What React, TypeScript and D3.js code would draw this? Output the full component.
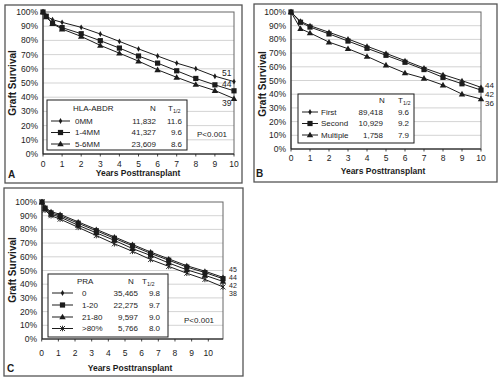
import React from 'react';
import * as d3 from 'd3';

// ---------------- DATA ----------------
const yTicks = [0, 10, 20, 30, 40, 50, 60, 70, 80, 90, 100];
const xTickLabels = [0, 1, 2, 3, 4, 5, 6, 7, 8, 9, 10];

// Panel A – HLA-ABDR mismatches
const yearsA = [0, 0.17, 0.5, 1, 2, 3, 4, 5, 6, 7, 8, 9, 10];
const a0MM = [100, 97, 94.6, 92.7, 89.2, 84.5, 79.3, 74, 69, 64, 60, 54.8, 51];
const a14MM = [100, 97, 92, 89, 84.7, 79.8, 74.6, 69, 64, 58.6, 53.2, 48.7, 44.5];
const a56MM = [100, 96.5, 91.8, 88, 82.8, 76.5, 71, 65.4, 59.3, 54, 49, 44.7, 39];
const aNames = ['0MM', '1-4MM', '5-6MM'];
const aN = ['11,832', '41,327', '23,609'];
const aT = ['11.6', '9.6', '8.6'];
const aEnd = ['51', '44', '39'];

// Panel B – transplant number
const yearsB = [0, 0.5, 1, 2, 3, 4, 5, 6, 7, 8, 9, 10];
const bFirst = [100, 93.2, 90, 85.2, 80.3, 75, 69.8, 64.5, 59.1, 54.3, 49.9, 45];
const bSecond = [100, 92.5, 89, 84, 78.8, 73.5, 68.4, 63.3, 58, 52.3, 47.6, 43];
const bMultiple = [100, 87.8, 84.7, 78, 73.2, 67.6, 61.3, 55.5, 51.6, 46.7, 40.1, 36.5];
const bNames = ['First', 'Second', 'Multiple'];
const bN = ['89,418', '10,929', '1,758'];
const bT = ['9.6', '9.2', '7.9'];
const bEnd = ['44', '42', '36'];

// Panel C – PRA
const yearsC = [0, 0.17, 0.5, 1, 2, 3, 4, 5, 6, 7, 8, 9, 10];
const cPRA0 = [100, 96, 93, 91, 85.5, 80, 74.5, 69, 63.5, 58.5, 53.5, 49.5, 45];
const cPRA1 = [100, 95.5, 92, 90, 84.5, 79, 73.5, 68, 62.5, 57.5, 52.5, 48.5, 44];
const cPRA21 = [100, 95, 91, 89, 83, 77.5, 72, 66, 61, 55.5, 50.5, 46.5, 42];
const cPRA80 = [100, 94, 90, 87.5, 81.5, 75.5, 69.5, 64, 58, 53, 48, 43.5, 38];
const cNames = ['0', '1-20', '21-80', '>80%'];
const cN = ['35,465', '22,275', '9,597', '5,766'];
const cT = ['9.8', '9.7', '9.0', '8.0'];
const cEnd = ['45', '44', '42', '38'];

// ---------------- DRAWING ----------------
const FONT = "'Liberation Sans', Arial, sans-serif";
const INK = '#1c1c1c';

type MType = 'diamond' | 'square' | 'triangle' | 'star';

function Marker({ type, x, y }: { type: MType; x: number; y: number }) {
  if (type === 'square') return <rect x={x - 2.6} y={y - 2.6} width={5.2} height={5.2} fill={INK} />;
  if (type === 'diamond')
    return <path d={d3.symbol(d3.symbolDiamond, 10)()!} transform={`translate(${x},${y})`} fill={INK} />;
  if (type === 'triangle')
    return <path d={d3.symbol(d3.symbolTriangle, 18)()!} transform={`translate(${x},${y + 0.5})`} fill={INK} />;
  return (
    <g stroke={INK} strokeWidth={0.9}>
      <line x1={x - 2.5} y1={y - 2.5} x2={x + 2.5} y2={y + 2.5} />
      <line x1={x - 2.5} y1={y + 2.5} x2={x + 2.5} y2={y - 2.5} />
      <line x1={x} y1={y - 2.8} x2={x} y2={y + 2.8} />
    </g>
  );
}

type PanelCfg = {
  letter: string;
  outer: [number, number, number, number];
  plot: { x0: number; x1: number; y0: number; y1: number };
  tickRange?: [number, number];
  tickY: number;
  titleX: number;
  titleY: number;
  letterX: number;
  letterY: number;
  ylabX: number;
  ylabY: number;
  years: number[];
  series: { name: string; values: number[]; marker: MType; n: string; t: string; end: string; endDy: number }[];
  endX: number;
  endSize: number;
  legend: {
    box: [number, number, number, number];
    header: string;
    headerX: number;
    headerY: number;
    nHeadX: number;
    tHeadX: number;
    rowY: number[];
    lx0: number;
    lx1: number;
    labelX: number;
    nX: number;
    tX: number;
  };
  p?: { x: number; y: number };
};

function Panel({ cfg }: { cfg: PanelCfg }) {
  const { plot } = cfg;
  const xs = d3.scaleLinear().domain([0, 10]).range([plot.x0, plot.x1]);
  const xt = d3.scaleLinear().domain([0, 10]).range(cfg.tickRange ?? [plot.x0, plot.x1]);
  const ys = d3.scaleLinear().domain([0, 100]).range([plot.y1, plot.y0]);
  const lg = cfg.legend;
  return (
    <g fontFamily={FONT} fill={INK}>
      <rect x={cfg.outer[0]} y={cfg.outer[1]} width={cfg.outer[2]} height={cfg.outer[3]} fill="none" stroke="#555" strokeWidth={1.3} />
      {/* gridlines */}
      {yTicks.filter((t) => t > 0 && t < 100).map((t) => (
        <line key={t} x1={plot.x0} x2={plot.x1} y1={ys(t)} y2={ys(t)} stroke="#c8c8c8" strokeWidth={0.8} />
      ))}
      <rect x={plot.x0} y={plot.y0} width={plot.x1 - plot.x0} height={plot.y1 - plot.y0} fill="none" stroke="#666" strokeWidth={1} />
      <line x1={plot.x0} x2={plot.x1} y1={plot.y1} y2={plot.y1} stroke={INK} strokeWidth={1} />
      <line x1={plot.x0} x2={plot.x0} y1={plot.y0} y2={plot.y1} stroke={INK} strokeWidth={1} />
      {/* y tick labels */}
      {yTicks.map((t) => (
        <text key={t} x={plot.x0 - 5} y={ys(t)} textAnchor="end" dominantBaseline="central" fontSize={8.5}>
          {t}%
        </text>
      ))}
      {/* x tick labels */}
      {xTickLabels.map((t) => (
        <g key={t}>
          <line x1={xt(t)} x2={xt(t)} y1={plot.y1} y2={plot.y1 + 2.5} stroke={INK} strokeWidth={0.8} />
          <text x={xt(t)} y={cfg.tickY} textAnchor="middle" dominantBaseline="central" fontSize={8.5}>
            {t}
          </text>
        </g>
      ))}
      <text x={cfg.titleX} y={cfg.titleY} textAnchor="middle" dominantBaseline="central" fontSize={8.5} fontWeight="bold">
        Years Posttransplant
      </text>
      <text
        transform={`translate(${cfg.ylabX},${cfg.ylabY}) rotate(-90)`}
        textAnchor="middle"
        dominantBaseline="central"
        fontSize={10}
        fontWeight="bold"
      >
        Graft Survival
      </text>
      <text x={cfg.letterX} y={cfg.letterY} dominantBaseline="central" fontSize={10} fontWeight="bold">
        {cfg.letter}
      </text>
      {/* series */}
      {cfg.series.map((s, si) => {
        const line = d3
          .line<number>()
          .x((_, i) => xs(cfg.years[i]))
          .y((d) => ys(d));
        return (
          <g key={si}>
            <path d={line(s.values)!} fill="none" stroke={INK} strokeWidth={1} />
            {s.values.map((v, i) => (
              <Marker key={i} type={s.marker} x={xs(cfg.years[i])} y={ys(v)} />
            ))}
            <text x={cfg.endX} y={ys(s.values[s.values.length - 1]) + s.endDy} dominantBaseline="central" fontSize={cfg.endSize}>
              {s.end}
            </text>
          </g>
        );
      })}
      {/* legend */}
      <rect x={lg.box[0]} y={lg.box[1]} width={lg.box[2]} height={lg.box[3]} fill="#fff" stroke={INK} strokeWidth={1} />
      {lg.header && (
        <text x={lg.headerX} y={lg.headerY} dominantBaseline="central" fontSize={8}>
          {lg.header}
        </text>
      )}
      <text x={lg.nHeadX} y={lg.headerY} dominantBaseline="central" fontSize={8}>
        N
      </text>
      <text x={lg.tHeadX} y={lg.headerY} dominantBaseline="central" fontSize={8}>
        T<tspan fontSize={5.5} dy={2.5}>1/2</tspan>
      </text>
      {cfg.series.map((s, si) => (
        <g key={si}>
          <line x1={lg.lx0} x2={lg.lx1} y1={lg.rowY[si]} y2={lg.rowY[si]} stroke={INK} strokeWidth={1} />
          <Marker type={s.marker} x={(lg.lx0 + lg.lx1) / 2} y={lg.rowY[si]} />
          <text x={lg.labelX} y={lg.rowY[si]} dominantBaseline="central" fontSize={8}>
            {s.name}
          </text>
          <text x={lg.nX} y={lg.rowY[si]} textAnchor="end" dominantBaseline="central" fontSize={8}>
            {s.n}
          </text>
          <text x={lg.tX} y={lg.rowY[si]} textAnchor="end" dominantBaseline="central" fontSize={8}>
            {s.t}
          </text>
        </g>
      ))}
      {cfg.p && (
        <text x={cfg.p.x} y={cfg.p.y} dominantBaseline="central" fontSize={8}>
          P&lt;0.001
        </text>
      )}
    </g>
  );
}

const markersA: MType[] = ['diamond', 'square', 'triangle'];
const markersC: MType[] = ['diamond', 'square', 'triangle', 'star'];

const panelA: PanelCfg = {
  letter: 'A',
  outer: [5, 5, 237, 178],
  plot: { x0: 43, x1: 234, y0: 12, y1: 154 },
  tickY: 163.5,
  titleX: 138,
  titleY: 173,
  letterX: 8,
  letterY: 174,
  ylabX: 12,
  ylabY: 83,
  years: yearsA,
  series: [a0MM, a14MM, a56MM].map((v, i) => ({
    name: aNames[i], values: v, marker: markersA[i], n: aN[i], t: aT[i], end: aEnd[i], endDy: [-8.5, -7, 4.5][i],
  })),
  endX: 222,
  endSize: 8.5,
  legend: {
    box: [47, 100, 140, 50],
    header: 'HLA-ABDR',
    headerX: 73,
    headerY: 108,
    nHeadX: 150,
    tHeadX: 168,
    rowY: [121, 132.5, 144],
    lx0: 51,
    lx1: 70,
    labelX: 75,
    nX: 156,
    tX: 182,
  },
  p: { x: 197, y: 134.5 },
};

const panelB: PanelCfg = {
  letter: 'B',
  outer: [254, 4, 243, 178],
  plot: { x0: 291, x1: 481, y0: 12, y1: 149 },
  tickY: 158,
  titleX: 383,
  titleY: 171,
  letterX: 256,
  letterY: 173,
  ylabX: 262,
  ylabY: 84,
  years: yearsB,
  series: [bFirst, bSecond, bMultiple].map((v, i) => ({
    name: bNames[i], values: v, marker: markersA[i], n: bN[i], t: bT[i], end: bEnd[i], endDy: [-2, 4.4, 4.2][i],
  })),
  endX: 485,
  endSize: 8,
  legend: {
    box: [298, 94, 116, 49],
    header: '',
    headerX: 0,
    headerY: 100,
    nHeadX: 379,
    tHeadX: 398,
    rowY: [112, 123.5, 135],
    lx0: 302,
    lx1: 318,
    labelX: 321,
    nX: 383,
    tX: 409,
  },
};

const panelC: PanelCfg = {
  letter: 'C',
  outer: [4, 188, 239, 188],
  plot: { x0: 42, x1: 223, y0: 202, y1: 339 },
  tickRange: [41.7, 208.3],
  tickY: 353,
  titleX: 130,
  titleY: 368,
  letterX: 7,
  letterY: 368,
  ylabX: 12,
  ylabY: 270,
  years: yearsC,
  series: [cPRA0, cPRA1, cPRA21, cPRA80].map((v, i) => ({
    name: cNames[i], values: v, marker: markersC[i], n: cN[i], t: cT[i], end: cEnd[i], endDy: [-7.9, -1.2, 4.0, 6.6][i],
  })),
  endX: 229,
  endSize: 7,
  legend: {
    box: [48, 274, 120, 63],
    header: 'PRA',
    headerX: 77,
    headerY: 281,
    nHeadX: 128,
    tHeadX: 142,
    rowY: [293, 305, 317, 328.5],
    lx0: 52,
    lx1: 73,
    labelX: 82,
    nX: 138,
    tX: 160,
  },
  p: { x: 184, y: 320.5 },
};

export default function App() {
  return (
    <svg width={500} height={382} style={{ position: 'absolute', left: 0, top: 0, background: '#fff' }}>
      <rect width={500} height={382} fill="#fff" />
      <Panel cfg={panelA} />
      <Panel cfg={panelB} />
      <Panel cfg={panelC} />
    </svg>
  );
}
